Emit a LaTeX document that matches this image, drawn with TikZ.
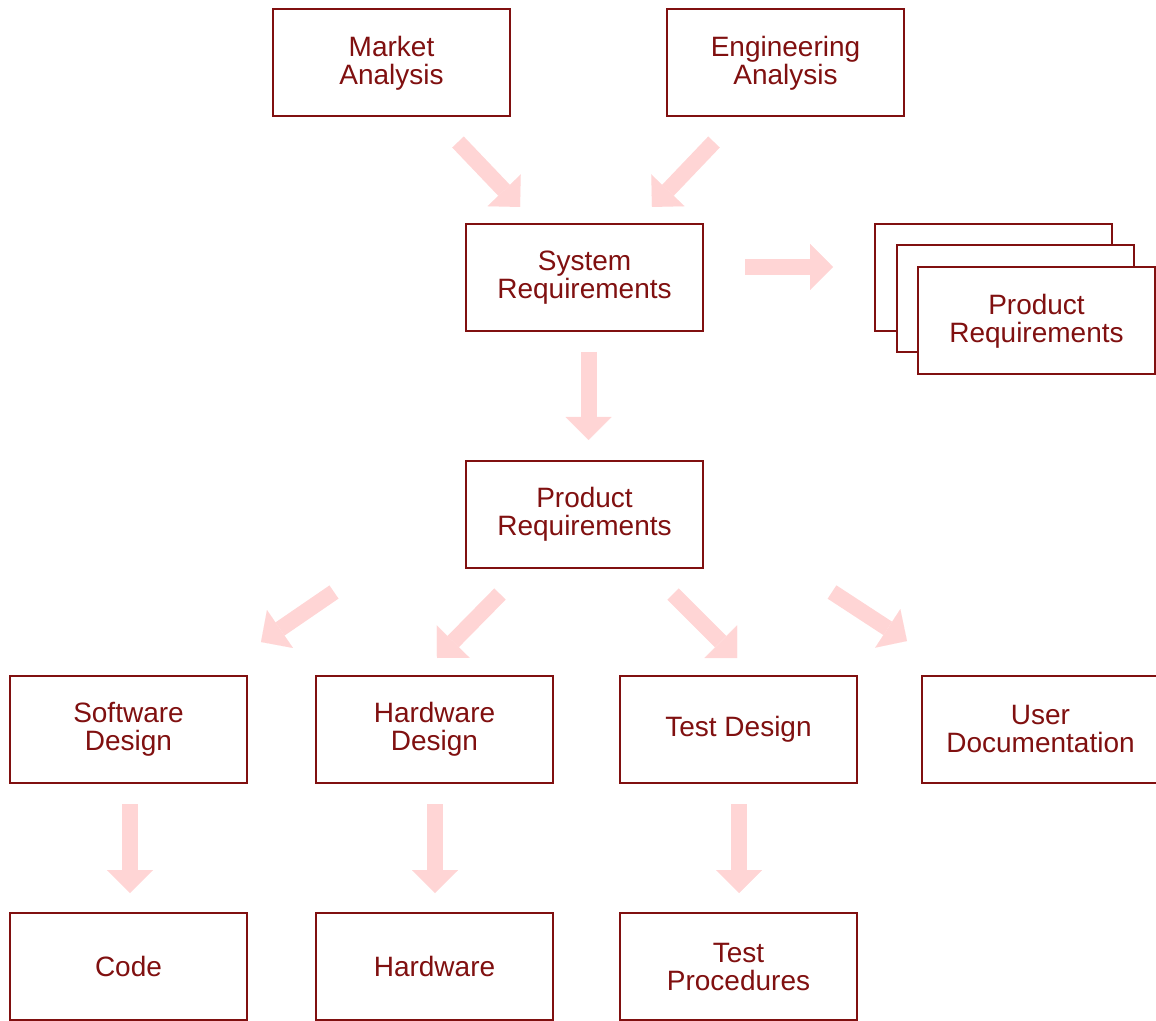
\documentclass[tikz,border=0pt]{standalone}
\usepackage{fontspec}
\setmainfont{Liberation Sans}
\usetikzlibrary{arrows.meta}
\definecolor{boxred}{RGB}{128,16,16}
\definecolor{arrpink}{RGB}{255,213,213}
\tikzset{
  box/.style={draw=boxred, line width=1pt, fill=white, text=boxred,
    minimum width=118.5pt, minimum height=53.5pt, inner sep=0pt,
    align=center, font=\fontsize{14}{14}\selectfont},
  blk/.style={draw=arrpink, line width=8pt,
    -{Triangle[length=11.5pt,width=23pt,line width=0.01pt]}}
}
\begin{document}
\begin{tikzpicture}[x=0.5pt,y=-0.5pt]
\useasboundingbox (0,0) rectangle (1156,1021);
\node[box] (ma) at (391.5,63) {Market\\Analysis};
\node[box] (ea) at (785.5,63) {Engineering\\Analysis};
\node[box] (sr) at (584.5,277.5) {System\\Requirements};
\node[box] (pr3) at (993.5,277.5) {};
\node[box] (pr2) at (1015.5,299) {};
\node[box] (pr1) at (1036.5,321) {Product\\Requirements};
\node[box] (prq) at (584.5,514.5) {Product\\Requirements};
\node[box] (sd) at (128.5,729.5) {Software\\Design};
\node[box] (hd) at (434.5,729.5) {Hardware\\Design};
\node[box] (td) at (738.5,729.5) {Test Design};
\node[box] (ud) at (1040.5,729.5) {User\\Documentation};
\node[box] (code) at (128.5,966.5) {Code};
\node[box] (hw) at (434.5,966.5) {Hardware};
\node[box] (tp) at (738.5,966.5) {Test\\Procedures};
% arrow end points
\coordinate (a1s) at (458,142); \coordinate (a1e) at (520,207);
\coordinate (a2s) at (714,142); \coordinate (a2e) at (652,207);
\coordinate (a3s) at (745,267); \coordinate (a3e) at (833,267);
\coordinate (a4s) at (588.5,352); \coordinate (a4e) at (588.5,440);
\coordinate (a5s) at (334,592); \coordinate (a5e) at (261,642);
\coordinate (a6s) at (500,594); \coordinate (a6e) at (437,658);
\coordinate (a7s) at (673,594); \coordinate (a7e) at (737,658);
\coordinate (a8s) at (832,592); \coordinate (a8e) at (907,641);
\coordinate (a9s) at (130,804); \coordinate (a9e) at (130,893);
\coordinate (a10s) at (435,804); \coordinate (a10e) at (435,893);
\coordinate (a11s) at (739,804); \coordinate (a11e) at (739,893);
\foreach \i in {1,...,11} {\draw[blk] (a\i s) -- (a\i e);}
\end{tikzpicture}
\end{document}
